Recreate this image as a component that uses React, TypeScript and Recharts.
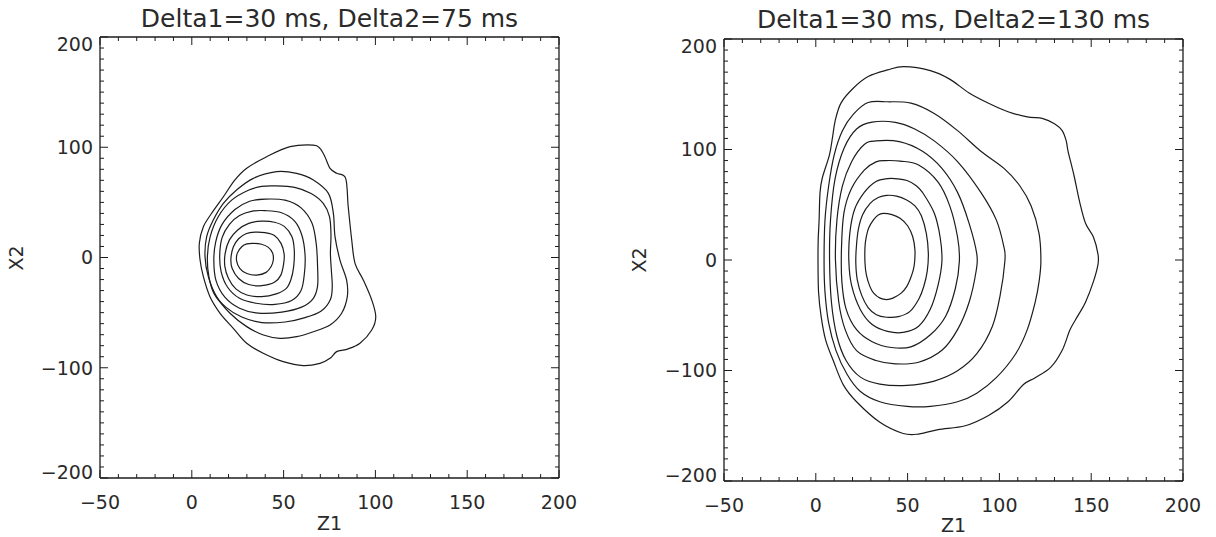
import { ComposedChart, Line, XAxis, YAxis } from 'recharts';

type Pt = [number, number];

// contour levels, innermost first
const left1: Pt[] = [[33.5,12.8],[38,12],[41.7,9.2],[44,4],[44.4,-2],[43.3,-8],[40.5,-13.5],[35.3,-15.9],[30,-14.5],[26.2,-10],[24.4,-3],[24.8,4],[27.2,9.8],[30,12.3]];
const left2: Pt[] = [[34.4,23],[40,22.5],[45,20],[48.6,12.8],[50.3,3],[50,-6],[48.5,-16],[45,-22.5],[38.1,-25.5],[31,-24.5],[25.5,-19],[22,-10],[21.3,-1],[22.6,9.5],[25.5,17],[29.5,21.5]];
const left3: Pt[] = [[38,33],[45,32],[50.5,28],[54.5,19],[55.8,7],[55.5,-8],[54,-20],[51.5,-28],[46,-33],[38,-35.5],[30,-34],[24,-28.5],[20,-19],[18,-8],[18.2,4],[20.5,16],[25,25],[31,31]];
const left4: Pt[] = [[39.9,42.5],[48.9,40.6],[56,33],[60,20],[61.7,2],[61.3,-15],[59.5,-30],[54.4,-39],[45.3,-42.5],[35,-41.5],[26,-37],[19.5,-27],[16,-13],[15.2,2],[16.5,18],[20.5,30],[26,38],[33,42]];
const left5: Pt[] = [[40,53],[50.8,52],[59.5,45],[65.5,31],[67.8,12],[68.5,-8],[68.5,-26],[66,-37.5],[59.8,-45],[49,-49.5],[36.2,-50.5],[26,-46],[18,-36],[13.2,-21],[12,-3],[13,14],[16.5,30],[23.5,43.5],[31.5,51]];
const left6: Pt[] = [[45,65],[56,63.6],[65,58],[71.6,49],[75,37],[75.8,21],[75.5,3.7],[76,-11.4],[76.5,-26],[75.5,-38],[70.5,-48.5],[61.7,-54.5],[50.8,-58.5],[38.1,-59],[27.2,-54],[18.5,-45],[12.2,-33],[9.3,-17.4],[8.5,0.7],[10,18.9],[14.4,37],[21.7,52],[30.8,61],[38.1,64.5]];
const left7: Pt[] = [[46.2,77.9],[57.1,76.3],[66.2,70.3],[74.4,58.2],[77.1,40.1],[78,18.9],[80.7,-2.3],[84.3,-20.4],[84.7,-35.5],[81.6,-50.6],[75.3,-61.2],[66.2,-67.3],[57.1,-71.8],[48,-73.3],[39,-70.3],[29.9,-62.7],[20.8,-50.6],[13.5,-35.5],[9,-17.4],[7.2,0.8],[8.1,18.9],[11.7,34],[17.2,49.1],[24.4,61.2],[33.5,71.8]];
const left8: Pt[] = [[66.2,102],[53.5,100.5],[40.8,91.4],[29.9,80.9],[23.5,70.3],[17.2,55.1],[10.8,40.1],[6.3,27.9],[4.1,12.9],[4.5,-2.3],[6.3,-17.4],[9.9,-35.6],[15.4,-50.6],[22.6,-64.2],[29.9,-77.8],[38.9,-86.9],[49.8,-94.5],[60.7,-98.1],[69.8,-96],[75.3,-91.4],[78.9,-85.4],[84.4,-83.3],[91.6,-77.8],[98,-65.8],[100.2,-53.7],[98,-38.5],[93.4,-20.4],[88.9,-5.3],[87.1,15.9],[85.2,46],[83.8,71.8],[78.9,76.4],[75.3,80.9],[72.5,91.4],[69.8,99]];

const right1: Pt[] = [[36.8,42.2],[41.5,41],[45.9,37.7],[50,31],[52.8,21],[54,9],[53.8,-2],[53.1,-9],[51.5,-17],[49.5,-24.1],[46.5,-30],[42,-34.5],[38.6,-35.8],[35,-34.5],[31.5,-30],[29.5,-24.1],[27.6,-14],[26.8,-3],[26.8,12.1],[27.5,21],[28.8,29],[31.5,36.5],[34,40.8]];
const right2: Pt[] = [[38.6,58.5],[44,57.8],[49.5,54.3],[54,49],[57.5,40],[60.2,24],[61.3,6],[60.7,-10],[58.8,-24],[56.2,-35],[51.3,-46.5],[45,-51.3],[38.5,-51.8],[33,-49.5],[28.5,-43],[25,-32],[22.6,-18],[21.8,-3],[22.1,12],[23.2,28],[25.5,41],[29.5,51],[34,56.5]];
const right3: Pt[] = [[39.1,73.6],[44.5,73.5],[49.7,72],[54.5,67.5],[58.1,61.2],[64.5,42.5],[67.7,20.8],[68.7,-0.9],[66.6,-22.7],[62.4,-44.4],[56,-59.9],[47.6,-65.5],[39.1,-64.6],[30.7,-58.4],[24.3,-45],[19.5,-23],[18,-0.9],[18.5,23.9],[21.1,45.7],[26.4,61.2],[32.8,71.1]];
const right4: Pt[] = [[38,90],[46,89.5],[56,86],[66.6,70.5],[73,48.8],[77.2,20.8],[78.2,-1],[76,-25.8],[70.8,-50.6],[62.4,-67.7],[51.8,-78.6],[41.2,-79.2],[30.7,-73.9],[22.2,-63],[16.5,-44.4],[14.2,-19.6],[14,11.5],[15.3,42.5],[19.3,64.3],[26.4,81.4],[32.8,88.8]];
const right5: Pt[] = [[32.8,107.8],[45.5,107.1],[58.1,98.4],[68.7,82.9],[77.2,61.2],[83.5,33.2],[87.7,5.3],[87.3,-10.2],[83.5,-38.2],[77.2,-63],[68.7,-81.7],[56,-92.5],[43.3,-94],[32.8,-91],[22.2,-82],[16,-63],[12.5,-38],[10.7,0],[11.5,36],[14.5,67],[19.5,89],[26.4,104.5]];
const right6: Pt[] = [[30.7,124.8],[43.3,124.6],[53.9,118.6],[64.5,107.8],[77.2,89.1],[89.9,61.2],[98.3,36.3],[102.5,11.5],[103,-0.9],[100.4,-32],[96.2,-59.9],[87.7,-84.8],[77.2,-100.3],[64.5,-109.6],[49.7,-113.5],[34.9,-112.3],[24.3,-106],[16.5,-91],[11.5,-69],[8.5,-38],[7.5,0],[8,36],[10.5,73.6],[15.5,101.6],[22.2,118.6]];
const right7: Pt[] = [[28.5,142.5],[39.1,143.2],[51.8,141.9],[64.5,132.6],[77.2,117.1],[89.9,98.4],[102.5,82.9],[111,67.4],[117.3,48.8],[121.6,23.9],[122.6,-0.9],[121.6,-19.6],[119.5,-38.2],[115.2,-63],[108.9,-84.8],[98.3,-106.5],[87.7,-120.5],[77.2,-128.3],[62.4,-132.5],[49.7,-132.5],[34.9,-128.3],[24.3,-119],[17,-103.4],[11,-82],[7,-57],[5,-29],[4.5,-1],[5,36],[7,67],[10,95],[14.5,117],[20.5,132]];
const right8: Pt[] = [[48,175],[39.1,172],[28.5,166],[20.1,155],[13.7,142],[10.6,126.4],[9.1,111],[7.4,95],[3.5,74],[2.3,61],[1.8,36],[1.3,18],[1.2,-1],[1.5,-29],[2.9,-51],[5.3,-72],[9.5,-91],[15,-113],[22.2,-128.3],[34.9,-146.9],[47.6,-157],[56,-157.5],[66.6,-153.5],[81.4,-150],[94.1,-140.7],[104.7,-128.3],[113.1,-112.7],[119.5,-106.5],[127.9,-97.2],[134.2,-81.7],[138.5,-63],[142.7,-50.6],[146.9,-38.2],[151.2,-19.6],[153.7,-4],[153.7,5.3],[151.2,20.8],[146.9,33.2],[143.8,51.9],[140.6,76.7],[137.4,98.4],[136.4,107.8],[134.2,117.1],[130,123.3],[123.7,128],[115.2,129.5],[104.7,134.2],[94.1,141.9],[83.5,151.2],[72.9,163.7],[62.4,171.4]];

const leftLevels = [left1, left2, left3, left4, left5, left6, left7, left8];
const rightLevels = [right1, right2, right3, right4, right5, right6, right7, right8];

const X_MAJOR = [-50, 0, 50, 100, 150, 200];
const Y_MAJOR = [-200, -100, 0, 100, 200];
const X_DOMAIN: [number, number] = [-50, 200];
const Y_DOMAIN: [number, number] = [-200, 200];

const STEP = 10; // minor tick spacing, both axes
const xTicks: number[] = [];
for (let v = X_DOMAIN[0]; v <= X_DOMAIN[1]; v += STEP) xTicks.push(v);
const yTicks: number[] = [];
for (let v = Y_DOMAIN[0]; v <= Y_DOMAIN[1]; v += STEP) yTicks.push(v);

const INK = '#1c1c1c';
const TEXT = '#2a2a2a';
const FONT = '"DejaVu Sans", sans-serif';
const TICK_FS = 19;
const MAJ = 8;
const MIN = 4;

const fmt = (v: number) => (v < 0 ? '\u2212' + Math.abs(v) : String(v));

/** closed spline through every point (Catmull-Rom as cubic beziers) */
const closedSpline = (context: any) => {
  let pts: number[][] = [];
  return {
    areaStart() {},
    areaEnd() {},
    lineStart() {
      pts = [];
    },
    point(x: number, y: number) {
      pts.push([+x, +y]);
    },
    lineEnd() {
      const n = pts.length;
      if (n < 3) return;
      context.moveTo(pts[0][0], pts[0][1]);
      for (let i = 0; i < n; i++) {
        const a = pts[(i + n - 1) % n];
        const b = pts[i];
        const c = pts[(i + 1) % n];
        const d = pts[(i + 2) % n];
        context.bezierCurveTo(
          b[0] + (c[0] - a[0]) / 6,
          b[1] + (c[1] - a[1]) / 6,
          c[0] - (d[0] - b[0]) / 6,
          c[1] - (d[1] - b[1]) / 6,
          c[0],
          c[1],
        );
      }
      context.closePath();
    },
  };
};

const BottomTick = (p: any) => {
  const v = p.payload.value;
  const major = X_MAJOR.includes(v);
  return (
    <g>
      <line x1={p.x} y1={p.y} x2={p.x} y2={p.y - (major ? MAJ : MIN)} stroke={INK} strokeWidth={1} />
      {major && (
        <text x={p.x} y={p.y + 31} textAnchor="middle" fontFamily={FONT} fontSize={TICK_FS} fill={TEXT}>
          {fmt(v)}
        </text>
      )}
    </g>
  );
};

const TopTick = (p: any) => {
  const major = X_MAJOR.includes(p.payload.value);
  return <line x1={p.x} y1={p.y} x2={p.x} y2={p.y + (major ? MAJ : MIN)} stroke={INK} strokeWidth={1} />;
};

const LeftTick = (p: any) => {
  const v = p.payload.value;
  const major = Y_MAJOR.includes(v);
  // end labels sit a little inside the box, as in the original
  const shift = v === Y_DOMAIN[1] ? 7 : v === Y_DOMAIN[0] ? -6 : 0;
  return (
    <g>
      <line x1={p.x} y1={p.y} x2={p.x + (major ? MAJ : MIN)} y2={p.y} stroke={INK} strokeWidth={1} />
      {major && (
        <text x={p.x - 7} y={p.y + shift} dy="0.36em" textAnchor="end" fontFamily={FONT} fontSize={TICK_FS} fill={TEXT}>
          {fmt(v)}
        </text>
      )}
    </g>
  );
};

const RightTick = (p: any) => {
  const major = Y_MAJOR.includes(p.payload.value);
  return <line x1={p.x} y1={p.y} x2={p.x - (major ? MAJ : MIN)} y2={p.y} stroke={INK} strokeWidth={1} />;
};

const axisLine = { stroke: INK, strokeWidth: 1.3 };

interface PanelProps {
  levels: Pt[][];
  width: number;
  height: number;
  margin: { top: number; right: number; bottom: number; left: number };
}

// axes get a 1px size (0 hides them); margins are trimmed by 1 to compensate
function ContourPanel({ levels, width, height, margin }: PanelProps) {
  return (
    <ComposedChart width={width} height={height} margin={margin}>
      <XAxis
        xAxisId="b"
        dataKey="x"
        type="number"
        domain={X_DOMAIN}
        allowDataOverflow
        ticks={xTicks}
        interval={0}
        height={1}
        tickSize={0}
        tickMargin={0}
        tick={BottomTick}
        axisLine={axisLine}
      />
      <XAxis
        xAxisId="t"
        orientation="top"
        dataKey="x"
        type="number"
        domain={X_DOMAIN}
        allowDataOverflow
        ticks={xTicks}
        interval={0}
        height={1}
        tickSize={0}
        tickMargin={0}
        tick={TopTick}
        axisLine={axisLine}
      />
      <YAxis
        yAxisId="l"
        type="number"
        domain={Y_DOMAIN}
        allowDataOverflow
        ticks={yTicks}
        interval={0}
        width={1}
        tickSize={0}
        tickMargin={0}
        tick={LeftTick}
        axisLine={axisLine}
      />
      <YAxis
        yAxisId="r"
        orientation="right"
        type="number"
        domain={Y_DOMAIN}
        allowDataOverflow
        ticks={yTicks}
        interval={0}
        width={1}
        tickSize={0}
        tickMargin={0}
        tick={RightTick}
        axisLine={axisLine}
      />
      {levels.map((pts, i) => (
        <Line
          key={i}
          xAxisId="b"
          yAxisId="l"
          data={pts.map(([x, y]) => ({ x, y }))}
          dataKey="y"
          type={closedSpline as any}
          stroke={INK}
          strokeWidth={1.2}
          dot={false}
          activeDot={false}
          legendType="none"
          isAnimationActive={false}
        />
      ))}
    </ComposedChart>
  );
}

export default function App() {
  return (
    <div style={{ position: 'fixed', left: 0, top: 0, width: 1216, height: 537, background: '#fff' }}>
      <div style={{ position: 'absolute', left: 0, top: 0 }}>
        <ContourPanel
          levels={leftLevels}
          width={608}
          height={537}
          margin={{ top: 36, left: 99, right: 48, bottom: 58 }}
        />
      </div>
      <div style={{ position: 'absolute', left: 608, top: 0 }}>
        <ContourPanel
          levels={rightLevels}
          width={608}
          height={537}
          margin={{ top: 38, left: 115, right: 32, bottom: 55 }}
        />
      </div>
      <svg width={1216} height={537} style={{ position: 'absolute', left: 0, top: 0, pointerEvents: 'none' }}>
        <g fontFamily={FONT} fill={TEXT}>
          <text x={329.5} y={27} textAnchor="middle" fontSize={25}>
            Delta1=30 ms, Delta2=75 ms
          </text>
          <text x={953.5} y={28} textAnchor="middle" fontSize={25}>
            Delta1=30 ms, Delta2=130 ms
          </text>
          <text x={329.5} y={530} textAnchor="middle" fontSize={TICK_FS}>
            Z1
          </text>
          <text x={953.5} y={532} textAnchor="middle" fontSize={TICK_FS}>
            Z1
          </text>
          <text x={16} y={258} dy="0.36em" textAnchor="middle" fontSize={TICK_FS} transform="rotate(-90 16 258)">
            X2
          </text>
          <text x={639} y={260} dy="0.36em" textAnchor="middle" fontSize={TICK_FS} transform="rotate(-90 639 260)">
            X2
          </text>
        </g>
      </svg>
    </div>
  );
}
